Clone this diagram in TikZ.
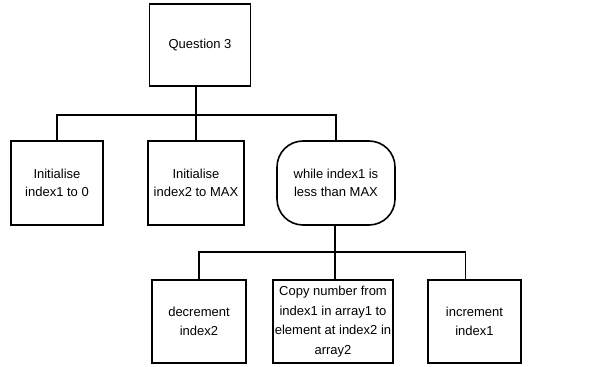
\documentclass[tikz,border=0pt]{standalone}
\usepackage{fontspec}
\setmainfont{Liberation Sans}
\begin{document}
\begin{tikzpicture}[x=1pt,y=-1pt,
  box/.style={draw, line width=1.6pt, align=center, inner sep=0pt, font=\fontsize{13}{18}\selectfont},
  lowbox/.style={box, font=\fontsize{13}{19.5}\selectfont},
  conn/.style={line width=1.6pt}]
\useasboundingbox (0,0) rectangle (609,366);
\node[box, minimum width=101pt, minimum height=82pt] (root) at (200,45) {Question 3};
\node[box, minimum width=92pt, minimum height=84pt] (a) at (57,183) {Initialise\\index1 to 0};
\node[box, minimum width=96pt, minimum height=84pt] (b) at (196,183) {Initialise\\index2 to MAX};
\node[box, rounded corners=26pt, minimum width=118pt, minimum height=84pt] (c) at (336,183) {while index1 is\\less than MAX};
\node[lowbox, minimum width=94pt, minimum height=83pt] (d) at (199,321.5) {decrement\\index2};
\node[lowbox, minimum width=120pt, minimum height=83pt] (e) at (333,321.5) {Copy number from\\index1 in array1 to\\element at index2 in\\array2};
\node[lowbox, minimum width=93pt, minimum height=83pt] (f) at (474.5,321.5) {increment\\index1};
\coordinate (j1) at (196,115);
\coordinate (j2) at (335,252);
\draw[conn] (root.south -| j1) -- (j1);
\draw[conn] (a.north) |- (j1) -| (c.north);
\draw[conn] (j1) -- (b.north);
\draw[conn] (c.south -| j2) -- (j2);
\draw[conn] (d.north) |- (j2) -| ([xshift=-9pt]f.north);
\draw[conn] (j2) -- (e.north -| j2);
\end{tikzpicture}
\end{document}
